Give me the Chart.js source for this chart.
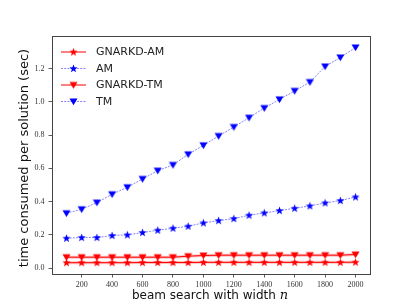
<!DOCTYPE html>
<html><head><meta charset="utf-8">
<script src="https://cdn.jsdelivr.net/npm/chart.js@4/dist/chart.umd.min.js"></script>
<style>html,body{margin:0;padding:0;background:#fff;}#wrap{width:411px;height:308px;}</style>
</head><body><div id="wrap"><canvas id="c" width="411" height="308"></canvas></div>
<script>
// ---- data ----
const beamWidths = [100,200,300,400,500,600,700,800,900,1000,1100,1200,1300,1400,1500,1600,1700,1800,1900,2000];
const seriesNames = ['GNARKD-AM','AM','GNARKD-TM','TM'];
const gnarkdAM = [0.033,0.033,0.033,0.033,0.033,0.034,0.034,0.034,0.034,0.035,0.035,0.035,0.035,0.035,0.035,0.035,0.035,0.035,0.035,0.036];
const am       = [0.180,0.184,0.184,0.196,0.200,0.214,0.228,0.240,0.252,0.272,0.286,0.298,0.318,0.332,0.346,0.360,0.374,0.392,0.406,0.428];
const gnarkdTM = [0.066,0.066,0.066,0.066,0.066,0.066,0.066,0.066,0.072,0.076,0.078,0.078,0.078,0.078,0.078,0.078,0.078,0.078,0.078,0.082];
const tm       = [0.330,0.354,0.394,0.444,0.486,0.536,0.586,0.620,0.684,0.738,0.794,0.848,0.904,0.962,1.014,1.065,1.118,1.212,1.266,1.326];
const xTickValues = [200,400,600,800,1000,1200,1400,1600,1800,2000];
const yTickValues = [0.0,0.2,0.4,0.6,0.8,1.0,1.2];
const xTitle = 'beam search with width ';
const xTitleVar = 'n';
const yTitle = 'time consumed per solution (sec)';

// ---- marker images ----
function starImg(color){
  const c=document.createElement('canvas');c.width=9;c.height=9;const g=c.getContext('2d');
  g.fillStyle=color;g.beginPath();
  for(let i=0;i<10;i++){const r=i%2?1.8:4.3;const a=-Math.PI/2+i*Math.PI/5;const x=4.5+r*Math.cos(a),y=4.8+r*Math.sin(a);i?g.lineTo(x,y):g.moveTo(x,y);}
  g.closePath();g.fill();return c;
}
function triImg(color){
  const c=document.createElement('canvas');c.width=9;c.height=9;const g=c.getContext('2d');
  g.fillStyle=color;g.beginPath();g.moveTo(0.5,1.5);g.lineTo(8.5,1.5);g.lineTo(4.5,8.2);g.closePath();g.fill();return c;
}
const RED='#ff0000', BLUE='#0000ff';
const markers=[starImg(RED),starImg(BLUE),triImg(RED),triImg(BLUE)];
const lineColors=[RED,'rgba(60,60,255,0.7)',RED,'rgba(60,60,255,0.7)'];
const dashes=[[],[2,1.2],[],[2,1.2]];
const seriesData=[gnarkdAM,am,gnarkdTM,tm];

const pts = arr => beamWidths.map((x,i)=>({x, y:arr[i]}));
const datasets = seriesData.map((arr,i)=>({
  label: seriesNames[i], data: pts(arr), borderColor: lineColors[i], borderWidth: i%2?0.9:1,
  borderDash: dashes[i], pointStyle: markers[i], pointRadius: 4, tension: 0, fill:false, order: 1
}));
// light bands behind the red series
[gnarkdAM,gnarkdTM].forEach(arr=>datasets.push({label:'', data: pts(arr), borderColor:'rgba(255,80,80,0.35)', borderWidth:3, pointRadius:0, order: 5}));

const framePlugin = {
  id:'frame',
  afterDraw(chart){
    const {ctx, chartArea:a} = chart;
    ctx.save();
    ctx.strokeStyle='#444'; ctx.lineWidth=1;
    ctx.strokeRect(Math.round(a.left)+0.5, Math.round(a.top)+0.5, Math.round(a.right-a.left), Math.round(a.bottom-a.top));
    // legend
    const rows=[52,68.5,85,101.5];
    ctx.font='11px "DejaVu Sans"'; ctx.textBaseline='middle'; ctx.textAlign='left';
    for(let i=0;i<4;i++){
      const y=rows[i];
      ctx.strokeStyle=lineColors[i]; ctx.lineWidth=i%2?0.9:1; ctx.setLineDash(dashes[i]);
      ctx.beginPath(); ctx.moveTo(61,y); ctx.lineTo(86,y); ctx.stroke(); ctx.setLineDash([]);
      ctx.drawImage(markers[i], 73.5-4.5, y-4.5);
      ctx.fillStyle='#222'; ctx.fillText(seriesNames[i], 96, y+0.5);
    }
    // axis titles
    ctx.fillStyle='#111';
    ctx.font='12px "DejaVu Sans"';
    const w1=ctx.measureText(xTitle).width;
    ctx.font='italic 13px "DejaVu Serif"';
    const w2=ctx.measureText(xTitleVar).width;
    const cx=(a.left+a.right)/2-1, x0=cx-(w1+w2)/2;
    ctx.textBaseline='alphabetic';
    ctx.font='12px "DejaVu Sans"'; ctx.fillText(xTitle, x0, 299);
    ctx.font='italic 13px "DejaVu Serif"'; ctx.fillText(xTitleVar, x0+w1, 299);
    ctx.translate(25,(a.top+a.bottom)/2+3); ctx.rotate(-Math.PI/2);
    ctx.font='13px "DejaVu Sans"'; ctx.textAlign='center'; ctx.textBaseline='middle';
    ctx.fillText(yTitle,0,0);
    ctx.restore();
  }
};

new Chart(document.getElementById('c'), {
  type:'line',
  data:{datasets},
  options:{
    responsive:false, devicePixelRatio:1, animation:false,
    layout:{padding:{left:0,top:36,right:41,bottom:0}},
    plugins:{legend:{display:false}, tooltip:{enabled:false}},
    scales:{
      x:{type:'linear', min:5, max:2095,
        afterBuildTicks:s=>{s.ticks=xTickValues.map(v=>({value:v}));},
        afterFit:s=>{s.height=34;},
        ticks:{font:{family:'Liberation Serif',size:8}, color:'#333', padding:3, maxRotation:0, autoSkip:false, callback:v=>String(v)},
        grid:{display:true, drawOnChartArea:false, drawTicks:true, tickLength:3.5, color:'#333', lineWidth:0.8},
        border:{display:false}
      },
      y:{type:'linear', min:-0.035, max:1.395,
        afterBuildTicks:s=>{s.ticks=yTickValues.map(v=>({value:v}));},
        afterFit:s=>{s.width=52;},
        ticks:{font:{family:'Liberation Serif',size:8}, color:'#333', padding:4, autoSkip:false, callback:v=>Number(v).toFixed(1)},
        grid:{display:true, drawOnChartArea:false, drawTicks:true, tickLength:3.5, color:'#333', lineWidth:0.8},
        border:{display:false}
      }
    }
  },
  plugins:[framePlugin]
});
</script></body></html>
